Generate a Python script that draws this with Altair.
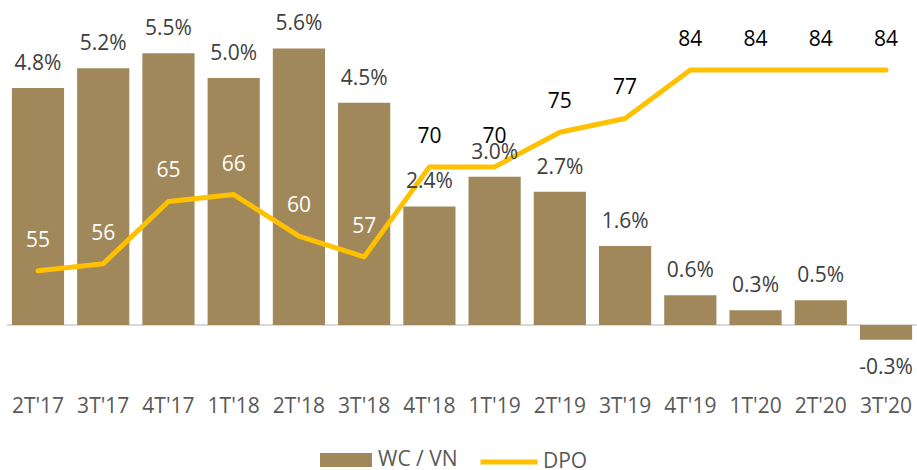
import altair as alt
import pandas as pd

quarters = ["2T'17", "3T'17", "4T'17", "1T'18", "2T'18", "3T'18", "4T'18",
            "1T'19", "2T'19", "3T'19", "4T'19", "1T'20", "2T'20", "3T'20"]
wc_vn = [0.048, 0.052, 0.055, 0.050, 0.056, 0.045, 0.024,
         0.030, 0.027, 0.016, 0.006, 0.003, 0.005, -0.003]
dpo = [55, 56, 65, 66, 60, 57, 70, 70, 75, 77, 84, 84, 84, 84]

df = pd.DataFrame({"q": quarters, "wc": wc_vn, "dpo": dpo})

FONT = "Open Sans"
BAR = "#A0885A"
LINE = "#FFC000"
FS = 21

x = alt.X("q:N", sort=quarters,
          scale=alt.Scale(paddingInner=0.2, paddingOuter=0.075),
          axis=alt.Axis(title=None, domain=False, ticks=False, labelAngle=0,
                        labelFont=FONT, labelFontSize=FS, labelColor="#595959",
                        labelPadding=56, labelBaseline="middle", grid=False))

wc_scale = alt.Scale(domain=[-0.00506, 0.06377], nice=False, zero=False)
dpo_scale = alt.Scale(domain=[43.54, 92.67], nice=False, zero=False)

base = alt.Chart(df)

rule = alt.Chart(pd.DataFrame({"z": [0.0]})).mark_rule(
    color="#D9D9D9", strokeWidth=2).encode(
    y=alt.Y("z:Q", scale=wc_scale, axis=None))

bars = base.transform_calculate(s="'WC / VN'").mark_bar().encode(
    x=x,
    y=alt.Y("wc:Q", scale=wc_scale, axis=None),
    fill=alt.Fill("s:N", scale=alt.Scale(domain=["WC / VN"], range=[BAR]),
                  legend=alt.Legend(title=None, orient="none", legendX=313, legendY=424,
                                    symbolType="M-1,-0.27H1V0.27H-1Z", symbolSize=2704,
                                    symbolStrokeWidth=0, labelFont=FONT, labelFontSize=FS,
                                    labelColor="#595959", labelOffset=6, padding=0)),
)

line = base.transform_calculate(s="'DPO'").mark_line(
    strokeWidth=5, strokeCap="round", strokeJoin="round").encode(
    x=x,
    y=alt.Y("dpo:Q", scale=dpo_scale, axis=None),
    stroke=alt.Stroke("s:N", scale=alt.Scale(domain=["DPO"], range=[LINE]),
                      legend=alt.Legend(title=None, orient="none", legendX=471, legendY=421,
                                        symbolType="stroke", symbolSize=3249,
                                        symbolStrokeWidth=5, labelFont=FONT, labelFontSize=FS,
                                        labelColor="#595959", labelOffset=3, padding=0)),
)

lab_expr = "(datum.wc < 0 ? '-' : '') + format(abs(datum.wc), '.1%')"

pct_pos = base.transform_filter("datum.wc >= 0").transform_calculate(
    lab=lab_expr).mark_text(
    font=FONT, fontSize=FS, color="#404040", baseline="middle", dy=-24).encode(
    x=x, y=alt.Y("wc:Q", scale=wc_scale, axis=None), text="lab:N")

pct_neg = base.transform_filter("datum.wc < 0").transform_calculate(
    lab=lab_expr).mark_text(
    font=FONT, fontSize=FS, color="#404040", baseline="middle", dy=28).encode(
    x=x, y=alt.Y("wc:Q", scale=wc_scale, axis=None), text="lab:N")

dpo_lab = base.mark_text(font=FONT, fontSize=FS, baseline="middle", dy=-30).encode(
    x=x,
    y=alt.Y("dpo:Q", scale=dpo_scale, axis=None),
    text=alt.Text("dpo:Q", format="d"),
    color=alt.condition("datum.dpo < 68", alt.value("white"), alt.value("black")),
)

chart = alt.layer(rule, bars, line, pct_pos, pct_neg, dpo_lab).resolve_scale(
    y="independent", fill="independent", stroke="independent"
).properties(
    width=910, height=340,
    background="white",
    autosize=alt.AutoSizeParams(type="none"),
    padding={"left": 7, "top": 10, "right": 0, "bottom": 120},
).configure_view(stroke=None)

chart.save("out.html", embed_options={"renderer": "svg", "actions": False})
